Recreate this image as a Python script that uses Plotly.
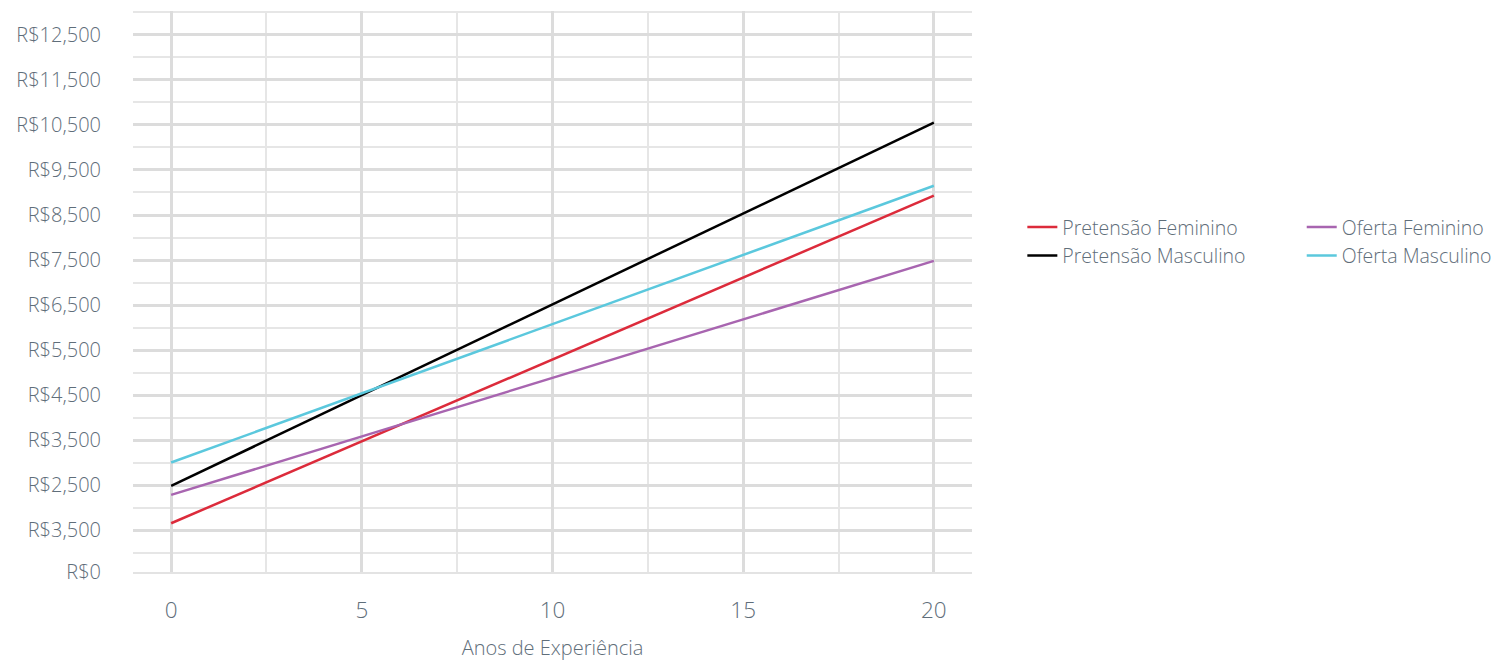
import plotly.graph_objects as go

# ---- data ----
anos = [0, 20]
pretensao_feminino = [1650, 8930]
pretensao_masculino = [2480, 10550]
oferta_feminino = [2280, 7480]
oferta_masculino = [3000, 9150]

y_tick_vals = [567, 1500, 2500, 3500, 4500, 5500, 6500, 7500, 8500, 9500, 10500, 11500, 12500]
y_tick_text = ["R$0", "R$3,500", "R$2,500", "R$3,500", "R$4,500", "R$5,500", "R$6,500",
               "R$7,500", "R$8,500", "R$9,500", "R$10,500", "R$11,500", "R$12,500"]
y_minor_vals = [1000, 2000, 3000, 4000, 5000, 6000, 7000, 8000, 9000, 10000, 11000, 12000, 13000]
x_tick_vals = [0, 5, 10, 15, 20]
x_minor_vals = [2.5, 7.5, 12.5, 17.5]

TEXT = "#5f6e7a"
FONT = "Open Sans"
W = 300

fig = go.Figure()
series = [
    ("Pretensão Feminino", pretensao_feminino, "#dc2b3b", "legend"),
    ("Pretensão Masculino", pretensao_masculino, "#000000", "legend"),
    ("Oferta Feminino", oferta_feminino, "#a865b0", "legend2"),
    ("Oferta Masculino", oferta_masculino, "#5bc8dd", "legend2"),
]
for name, vals, color, leg in series:
    fig.add_trace(go.Scatter(x=anos, y=vals, mode="lines", name=name,
                             line=dict(color=color, width=2.5), legend=leg))

legend_common = dict(font=dict(family=FONT, size=19.5, color=TEXT, weight=W), bgcolor="rgba(0,0,0,0)",
                     borderwidth=0, orientation="v", yanchor="top", xanchor="left", tracegroupgap=0)

fig.update_layout(
    width=1495, height=653,
    margin=dict(l=125, r=531, t=3, b=89, autoexpand=False),
    paper_bgcolor="white", plot_bgcolor="white",
    font=dict(family=FONT, color=TEXT, weight=W),
    showlegend=True,
    legend=dict(x=1.060, y=0.649, **legend_common),
    legend2=dict(x=1.393, y=0.649, **legend_common),
    xaxis=dict(
        range=[-1, 21], tickvals=x_tick_vals, ticks="", automargin=False,
        showgrid=True, gridcolor="#dcdcdc", gridwidth=3,
        minor=dict(tickvals=x_minor_vals, showgrid=True, gridcolor="#e6e6e6", gridwidth=1.5, ticks=""),
        zeroline=False, showline=True, linecolor="#e3e3e3", linewidth=2,
        tickfont=dict(family=FONT, size=22.5, color=TEXT, weight=W), ticklabelstandoff=17,
        title=dict(text="Anos de Experiência", font=dict(family=FONT, size=20, color=TEXT, weight=W), standoff=29),
    ),
    yaxis=dict(
        range=[567, 13033], tickvals=y_tick_vals, ticktext=y_tick_text, ticks="", automargin=False,
        showgrid=True, gridcolor="#dcdcdc", gridwidth=3,
        minor=dict(tickvals=y_minor_vals, showgrid=True, gridcolor="#e6e6e6", gridwidth=1.5, ticks=""),
        zeroline=False, showline=False,
        tickfont=dict(family=FONT, size=20, color=TEXT, weight=W), ticklabelstandoff=31,
    ),
)

fig.write_html("out.html")
